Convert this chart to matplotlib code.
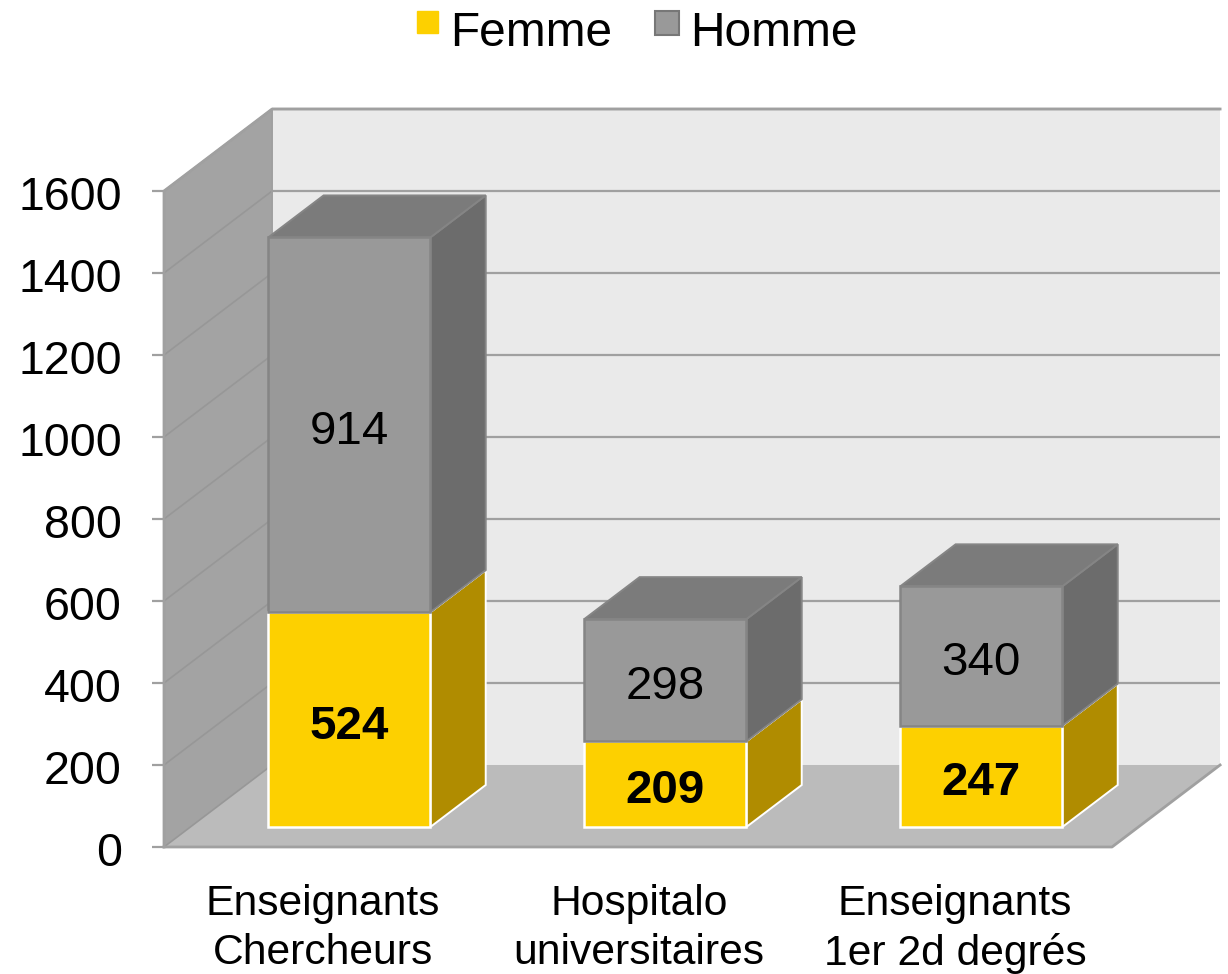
import matplotlib
matplotlib.use("Agg")
import matplotlib.pyplot as plt
from matplotlib.legend_handler import HandlerPatch
from matplotlib.patches import Patch, Rectangle

plt.rcParams['font.family'] = ['Liberation Sans', 'DejaVu Sans']

categories = ["Enseignants\nChercheurs", "Hospitalo\nuniversitaires", "Enseignants\n1er 2d degrés"]
femme = [524, 209, 247]
homme = [914, 298, 340]
y_ticks = [0, 200, 400, 600, 800, 1000, 1200, 1400, 1600]

# fake 3D: depth d goes from 0 (front) to 1 (back wall)
DX = 0.342
DY = 200
Y_MAX = 1600
BAR_W = 0.513
BAR_NUDGE = 0.003
D_FRONT = 0.244
D_BACK = 0.756

LINE = "#a0a0a0"


def pr(x, v, d):
    return x + d * DX, v + d * DY


def poly(ax, pts, face, edge=None, lw=0, z=1):
    xs = [p[0] for p in pts]
    ys = [p[1] for p in pts]
    ax.fill(xs, ys, facecolor=face, edgecolor=edge if edge else face, linewidth=lw,
            joinstyle="miter", zorder=z)


def box(ax, x, v0, v1, front, top, side, edge, z):
    l, r = x + BAR_NUDGE - BAR_W / 2, x + BAR_NUDGE + BAR_W / 2
    a, b = D_FRONT, D_BACK
    poly(ax, [pr(r, v0, a), pr(r, v0, b), pr(r, v1, b), pr(r, v1, a)], side, edge, 1.4, z)
    poly(ax, [pr(l, v1, a), pr(r, v1, a), pr(r, v1, b), pr(l, v1, b)], top, edge, 1.4, z)
    poly(ax, [pr(l, v0, a), pr(r, v0, a), pr(r, v1, a), pr(l, v1, a)], front, edge, 1.8, z + 0.1)


# legend squares sit higher than the default handle
def square(dx, side, up):
    def make(legend, orig_handle, xdescent, ydescent, width, height, fontsize):
        return Rectangle((dx - xdescent, up - ydescent), side, side)
    return make


fig = plt.figure(figsize=(12.28, 9.74), dpi=100)
ax = fig.add_axes([0, 0, 1, 1])
ax.set_xlim(-1.019, 2.867)
ax.set_ylim(-309.8, 2065.9)
ax.axis("off")

x0, x1 = -0.5, 2.5

# back wall, floor, side wall
poly(ax, [pr(x0, 0, 1), pr(x1, 0, 1), pr(x1, Y_MAX, 1), pr(x0, Y_MAX, 1)], "#eaeaea", z=1)
poly(ax, [pr(x0, 0, 0), pr(x1, 0, 0), pr(x1, 0, 1), pr(x0, 0, 1)], "#bbbbbb", z=2)
poly(ax, [pr(x0, 0, 0), pr(x0, 0, 1), pr(x0, Y_MAX, 1), pr(x0, Y_MAX, 0)], "#a3a3a3", z=3)

# gridlines on the back and side walls, ticks on the front edge
for v in y_ticks:
    if v > 0:
        xa, ya = pr(x0, v, 1)
        xb, yb = pr(x1, v, 1)
        ax.plot([xa, xb], [ya, yb], color=LINE, lw=1.6, zorder=2.5, solid_capstyle="butt")
    xa, ya = pr(x0, v, 0)
    xb, yb = pr(x0, v, 1)
    ax.plot([xa, xb], [ya, yb], color="#979797", lw=1.2, zorder=3.5)
    ax.plot([x0 - 0.038, x0], [v, v], color=LINE, lw=1.6, zorder=3.5, solid_capstyle="butt")
    ax.text(x0 - 0.133, v - 18, str(v), ha="right", va="center", fontsize=33.5, color="black")

# outline of the walls and floor
xa, ya = pr(x0, 0, 1)
ax.plot([pr(x0, 0, 0)[0], pr(x1, 0, 0)[0], pr(x1, 0, 1)[0]],
        [0, 0, pr(x1, 0, 1)[1]], color=LINE, lw=2, zorder=3.6)
ax.plot([pr(x0, 0, 0)[0], pr(x0, Y_MAX, 0)[0], pr(x0, Y_MAX, 1)[0], pr(x1, Y_MAX, 1)[0]],
        [0, Y_MAX, pr(x0, Y_MAX, 1)[1], pr(x1, Y_MAX, 1)[1]], color=LINE, lw=2, zorder=3.6)
ax.plot([xa, xa], [ya, ya + Y_MAX], color=LINE, lw=1.4, zorder=3.6)

for i in range(len(categories)):
    f, h = femme[i], homme[i]
    box(ax, i, 0, f, "#fdd000", "#fdd000", "#b08c00", "white", 5)
    box(ax, i, f, f + h, "#999999", "#7b7b7b", "#6c6c6c", "#858585", 6)
    lx = pr(i, 0, D_FRONT)[0] + BAR_NUDGE
    ly = pr(i, 0, D_FRONT)[1]
    ax.text(lx, ly + f / 2 - 17, str(f), ha="center", va="center", fontsize=34.2,
            fontweight="bold", color="black", zorder=8)
    ax.text(lx, ly + f + h / 2 - 17, str(h), ha="center", va="center", fontsize=34.2,
            color="black", zorder=8)
    ax.text(i + 0.003, -91, categories[i], ha="center", va="top", fontsize=30.7, color="black",
            linespacing=1.28)

h_femme = Patch(facecolor="#fdd000", edgecolor="#fdd000", label="Femme")
h_homme = Patch(facecolor="#999999", edgecolor="#777777", linewidth=1.5, label="Homme")
ax.legend(handles=[h_femme, h_homme], ncols=2, loc="center",
          bbox_to_anchor=(636 / 1228, 1 - 33 / 974),
          handler_map={h_femme: HandlerPatch(patch_func=square(1.4, 15.4, 5.8)),
                       h_homme: HandlerPatch(patch_func=square(0.4, 17.2, 4.4))},
          frameon=False, fontsize=34.5, handlelength=0.46, handleheight=0.42, handletextpad=0.27,
          columnspacing=0.9, borderpad=0, borderaxespad=0)

fig.savefig("out.png", dpi=100)
